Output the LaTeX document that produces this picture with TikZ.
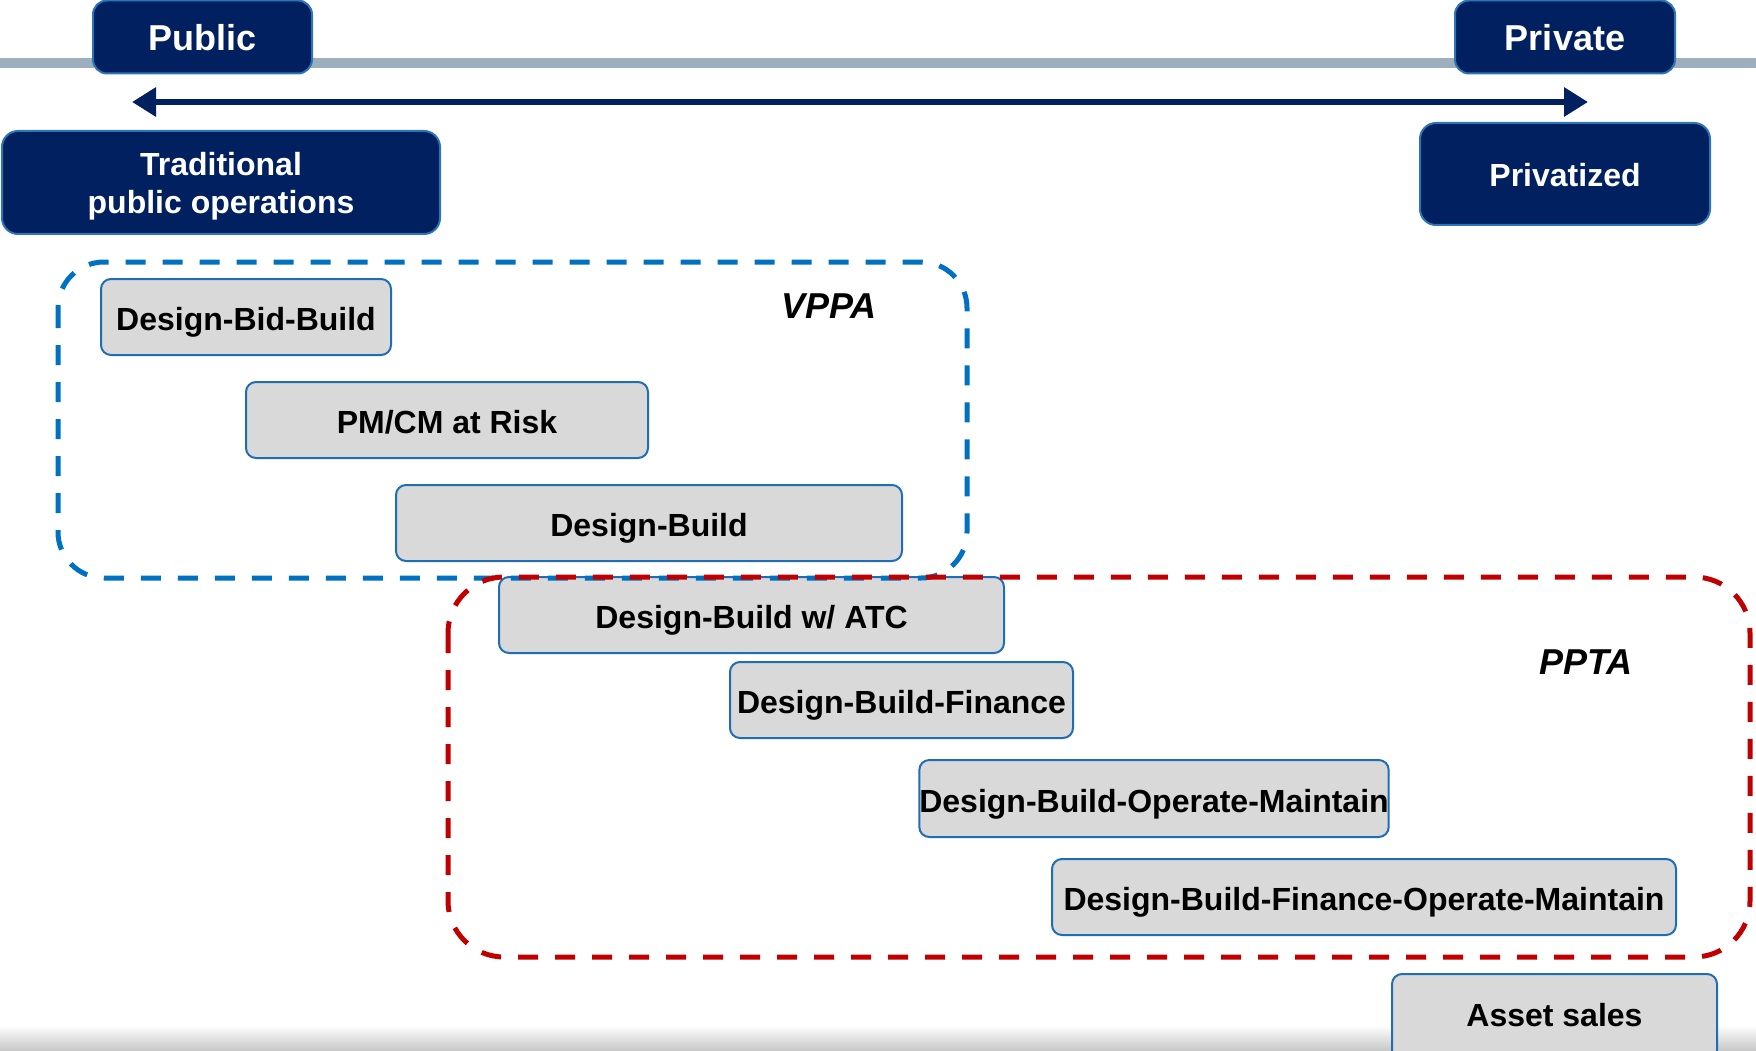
\documentclass[tikz,border=0pt]{standalone}
\usepackage{fontspec}
\setmainfont{Liberation Sans}
\usetikzlibrary{arrows.meta}
\definecolor{navy}{HTML}{002060}
\definecolor{navyedge}{HTML}{2E75B6}
\definecolor{boxgray}{HTML}{D9D9D9}
\definecolor{boxblue}{HTML}{1F6DB4}
\definecolor{dashblue}{HTML}{0070C0}
\definecolor{dashred}{HTML}{C00000}
\definecolor{linegray}{HTML}{9DAFBD}
\tikzset{
  graybox/.style={draw=boxblue, line width=2pt, fill=boxgray, rounded corners=10pt, inner sep=0pt,
    text height=33pt, text depth=6pt,
    font=\fontsize{32}{38}\selectfont\bfseries, text=black},
  navybox/.style={draw=navyedge, line width=2pt, fill=navy, rounded corners=14pt, inner sep=0pt,
    text height=32pt, text depth=7pt,
    text=white, align=center, font=\fontsize{32}{38}\selectfont\bfseries},
  endbox/.style={navybox, text height=36pt, text depth=8pt, font=\fontsize{36}{40}\selectfont\bfseries},
  grouplabel/.style={font=\fontsize{36}{40}\selectfont\bfseries\itshape, text=black, inner sep=0pt},
  groupline/.style={line width=5pt, dash pattern=on 20pt off 17pt, rounded corners=50pt},
}
\begin{document}
\begin{tikzpicture}[x=1pt,y=-1pt]
\useasboundingbox (0,0) rectangle (1756,1051);
\clip (0,0) rectangle (1756,1051);
% bottom shade
\shade[top color=white, bottom color=black!22] (0,1025) rectangle (1756,1051);
% gray axis line
\draw[linegray, line width=10pt] (0,63) -- (1756,63);
% end labels
\node[endbox, minimum width=219pt, minimum height=73pt] (public) at (202.5,37) {Public};
\node[endbox, minimum width=220pt, minimum height=73pt] (private) at (1565,37) {Private};
% arrow
\coordinate (al) at (132,102);
\coordinate (ar) at (1588,102);
\draw[navy, line width=6pt, {Triangle[length=24pt,width=28pt]}-{Triangle[length=24pt,width=28pt]}] (al) -- (ar);
% extreme boxes
\node[navybox, rounded corners=16pt, minimum width=438pt, minimum height=103pt, text height=70pt, text depth=7pt] (trad) at (221,182.5) {Traditional\\public operations};
\node[navybox, rounded corners=16pt, minimum width=290pt, minimum height=102pt] (priv) at (1565,174) {Privatized};
% delivery methods
\node[graybox, minimum width=290pt, minimum height=76pt] (dbb) at (246,317) {Design-Bid-Build};
\node[graybox, minimum width=402pt, minimum height=76pt] (pmcm) at (447,420) {PM/CM at Risk};
\node[graybox, minimum width=506pt, minimum height=76pt] (db) at (649,523) {Design-Build};
\node[graybox, minimum width=505pt, minimum height=76pt] (atc) at (751.5,615) {Design-Build w/ ATC};
\node[graybox, minimum width=343pt, minimum height=76pt] (dbf) at (901.5,700) {Design-Build-Finance};
\node[graybox, minimum width=466pt, minimum height=77pt] (dbom) at (1154,798.5) {Design-Build-Operate-Maintain};
\node[graybox, minimum width=624pt, minimum height=76pt] (dbfom) at (1364,897) {Design-Build-Finance-Operate-Maintain};
\node[graybox, minimum width=325pt, minimum height=86pt, text height=24pt, text depth=6pt] (asset) at (1554.5,1017) {Asset sales};
% groups
\draw[groupline, dashblue, rounded corners=46pt] (58,262) rectangle (967,578);
\draw[groupline, dashred, rounded corners=56pt] (448,577) rectangle (1750,957);
\node[grouplabel] (vppa) at (829,306) {VPPA};
\node[grouplabel] (ppta) at (1586,662) {PPTA};
\end{tikzpicture}
\end{document}
